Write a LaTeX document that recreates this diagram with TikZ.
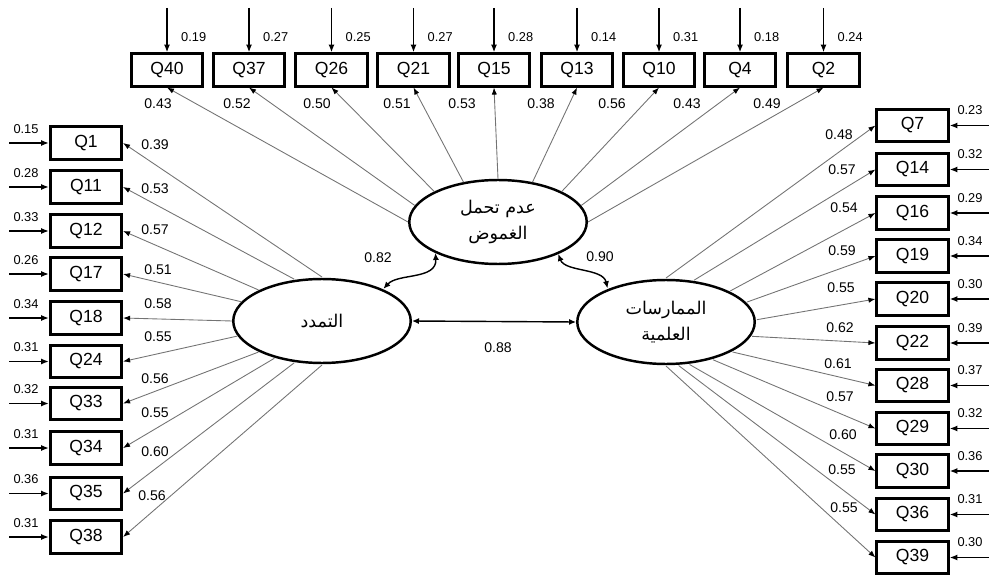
\documentclass[tikz,border=0pt]{standalone}
\usepackage{fontspec}
\setmainfont{Liberation Sans}
\newfontfamily\arabicfont[Script=Arabic]{DejaVu Sans}
\TeXXeTstate=1
\usetikzlibrary{arrows.meta,calc,shapes.geometric}

\begin{document}
\begin{tikzpicture}[x=0.02cm,y=0.02cm,
  item/.style={draw,line width=1.5pt,minimum width=1.43cm,minimum height=0.65cm,
    inner sep=0pt,font=\fontsize{10}{12}\selectfont},
  latent/.style={draw,ellipse,line width=1.4pt,minimum width=3.55cm,minimum height=1.68cm,
    inner sep=0pt,align=center,font=\arabicfont\fontsize{10}{15}\selectfont},
  load/.style={draw=black!55,line width=0.5pt,-{Latex[length=4pt,width=3pt,color=black]}},
  err/.style={line width=0.9pt,-{Latex[length=4.5pt,width=3.5pt]}},
  cov/.style={line width=0.8pt,{Latex[length=4pt,width=3.5pt]}-{Latex[length=4pt,width=3.5pt]}},
  coef/.style={font=\fontsize{8}{10}\selectfont},
  resid/.style={font=\fontsize{7.3}{9}\selectfont}]
\useasboundingbox (0,0) rectangle (989,-577);
% latent factors
\node[latent] (tol) at (498,-222) {\beginR عدم تحمل\endR\\\beginR الغموض\endR};
\node[latent] (div) at (322,-321) {\beginR التمدد\endR};
\node[latent] (sci) at (666,-322) {\beginR الممارسات\endR\\\beginR العلمية\endR};
% top items
\foreach \n/\xx/\e/\l/\lx [count=\i from 0] in {
  Q40/167/0.19/0.43/158, Q37/249/0.27/0.52/237, Q26/331.5/0.25/0.50/317,
  Q21/413.5/0.27/0.51/397, Q15/494/0.28/0.53/462, Q13/577/0.14/0.38/541,
  Q10/659/0.31/0.56/612, Q4/740/0.18/0.43/687, Q2/823.5/0.24/0.49/767} {
  \node[item] (\n) at (\xx,-70) {\n};
  \coordinate (\n-top) at (\xx,-8);
  \draw[err] (\n-top) -- (\n.north);
  \node[resid,anchor=west] (\n-e) at (\xx+8,-37) {\e};
  \pgfmathsetmacro\a{180-22.5*\i}
  \coordinate (tol-\i) at ($(tol)+({90*cos(\a)},{43*sin(\a)})$);
  \draw[load] (tol-\i) -- (\n.south);
  \node[coef] (\n-l) at (\lx,-104) {\l};
}
% left items
\foreach \n/\yy/\e/\l/\lx/\ly/\a in {
  Q1/143/0.15/0.39/155/145/90, Q11/187/0.28/0.53/155/189/108,
  Q12/231/0.33/0.57/155/230/135, Q17/274/0.26/0.51/158/270/154,
  Q18/318/0.34/0.58/158/304/180, Q24/361.5/0.31/0.55/158/337/200,
  Q33/403.5/0.32/0.56/155/379/225, Q34/448/0.31/0.55/155/413/238,
  Q35/493.5/0.36/0.60/155/452/252, Q38/537/0.31/0.56/152/496/270} {
  \node[item] (\n) at (86,-\yy) {\n};
  \coordinate (\n-in) at (9,-\yy);
  \draw[err] (\n-in) -- (\n.west);
  \node[resid] (\n-e) at (26,-\yy+14) {\e};
  \coordinate (div-\n) at ($(div)+({90*cos(\a)},{44*sin(\a)})$);
  \draw[load] (div-\n) -- (\n.east);
  \node[coef] (\n-l) at (\lx,-\ly) {\l};
}
% right items
\foreach \n/\yy/\e/\l/\lx/\ly/\a in {
  Q7/125.5/0.23/0.48/839/135/90, Q14/169.5/0.32/0.57/842/170/72,
  Q16/213/0.29/0.54/844/208/45, Q19/256/0.34/0.59/842/251/27,
  Q20/299/0.30/0.55/841/288/3, Q22/343/0.39/0.62/840/328/-19,
  Q28/385.5/0.37/0.61/838/364/-43, Q29/428.5/0.32/0.57/840/397/-59,
  Q30/471/0.36/0.60/843/435/-75, Q36/514.5/0.31/0.55/842/470/-82,
  Q39/557.5/0.30/0.55/844/508/-90} {
  \node[item] (\n) at (912.5,-\yy) {\n};
  \coordinate (\n-in) at (989,-\yy);
  \draw[err] (\n-in) -- (\n.east);
  \node[resid] (\n-e) at (970,-\yy+15) {\e};
  \coordinate (sci-\n) at ($(sci)+({91*cos(\a)},{44*sin(\a)})$);
  \draw[load] (sci-\n) -- (\n.west);
  \node[coef] (\n-l) at (\lx,-\ly) {\l};
}
% correlations
\coordinate (div-c) at ($(div)+({90*cos(47)},{44*sin(47)})$);
\coordinate (tol-a) at ($(tol)+({90*cos(226)},{43*sin(226)})$);
\coordinate (tol-b) at ($(tol)+({90*cos(-48)},{43*sin(-48)})$);
\coordinate (sci-c) at ($(sci)+({91*cos(130)},{44*sin(130)})$);
\draw[cov] (div-c) .. controls (398,-273) and (437,-280) .. (tol-a);
\draw[cov] (tol-b) .. controls (565,-272) and (603,-268) .. (sci-c);
\draw[cov] (div.east) -- (sci.west);
\node[coef] (r1) at (378,-258) {0.82};
\node[coef] (r2) at (600,-257) {0.90};
\node[coef] (r3) at (498,-348) {0.88};
\end{tikzpicture}
\end{document}
